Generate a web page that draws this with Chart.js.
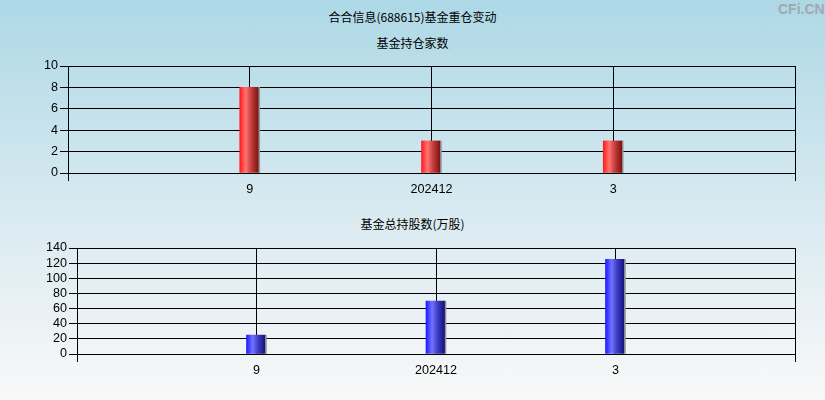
<!DOCTYPE html>
<html><head><meta charset="utf-8">
<script src="https://cdn.jsdelivr.net/npm/chart.js@4/dist/chart.umd.min.js"></script>
<style>
html,body{margin:0;padding:0;}
body{width:825px;height:400px;overflow:hidden;position:relative;background:linear-gradient(to bottom,#add8e6 0%,#d6e9f0 50%,#f9f8f8 100%);font-family:"Noto Sans CJK SC",sans-serif;}
.t{position:absolute;left:0;width:825px;text-align:center;font-size:12px;color:#000;line-height:16px;}
#logo{position:absolute;left:778px;top:1px;font:bold 14px "Liberation Sans",Arial,sans-serif;color:#a0a8ae;}
canvas{position:absolute;left:0;}
</style></head><body>
<div class="t" style="top:9px">合合信息(688615)基金重仓变动</div>
<div class="t" style="top:35px">基金持仓家数</div>
<div class="t" style="top:216px">基金总持股数(万股)</div>
<div id="logo">CFi.CN</div>
<canvas id="c1" width="825" height="145" style="top:55px"></canvas>
<canvas id="c2" width="825" height="145" style="top:235px"></canvas>
<script>
const categories = ['9', '202412', '3'];
const fundCount = [8, 3, 3];
const fundShares = [25, 70, 125];
const countTicks = [0, 2, 4, 6, 8, 10];
const sharesTicks = [0, 20, 40, 60, 80, 100, 120, 140];

const tickFont = {family: '"Liberation Sans", Arial, sans-serif', size: 12.6};

function gradFn(stops, fallback) {
  return function(ctx) {
    const chart = ctx.chart;
    const xs = chart.scales && chart.scales.x;
    if (!xs || ctx.dataIndex == null) return fallback;
    const x = xs.getPixelForValue(ctx.dataIndex);
    if (!isFinite(x)) return fallback;
    const g = chart.ctx.createLinearGradient(x - 10, 0, x + 10, 0);
    stops.forEach(s => g.addColorStop(s[0], s[1]));
    return g;
  };
}

function makeChart(id, values, ticksArr, stops, fallback, yWidth, padTop, xHeight) {
  const labels = [''].concat(categories, ['']);
  const data = [null].concat(values, [null]);
  return new Chart(document.getElementById(id), {
    type: 'bar',
    data: {labels: labels, datasets: [{data: data, backgroundColor: gradFn(stops, fallback), borderWidth: 0, barThickness: 20}]},
    options: {
      responsive: false, animation: false,
      layout: {padding: {top: padTop, right: 30, left: 0, bottom: 0}},
      plugins: {legend: {display: false}, tooltip: {enabled: false}, title: {display: false}},
      scales: {
        x: {
          type: 'category', offset: false,
          grid: {offset: false, color: '#000', lineWidth: 1, tickLength: 8,
            tickColor: c => (c.index === 0 || c.index === labels.length - 1) ? '#000' : 'rgba(0,0,0,0)'},
          border: {color: '#000'},
          ticks: {color: '#000', font: tickFont, padding: 1, maxRotation: 0, autoSkip: false},
          afterFit: s => { s.height = xHeight; }
        },
        y: {
          min: ticksArr[0], max: ticksArr[ticksArr.length - 1],
          afterBuildTicks: s => { s.ticks = ticksArr.map(v => ({value: v})); },
          grid: {color: '#000', lineWidth: 1, tickLength: 8},
          border: {color: '#000'},
          ticks: {color: '#000', font: tickFont, padding: 2, autoSkip: false},
          afterFit: s => { s.width = yWidth; }
        }
      }
    }
  });
}

makeChart('c1', fundCount, countTicks,
  [[0, '#ff1c1c'], [0.3, '#ff7272'], [0.6, '#c03a3a'], [0.92, '#7e1414'], [0.95, '#8a8a8a'], [1, '#9a9a9a']],
  '#e03030', 68, 11, 27);
makeChart('c2', fundShares, sharesTicks,
  [[0, '#1c1cff'], [0.3, '#7272ff'], [0.6, '#3a3ac0'], [0.92, '#14147e'], [0.95, '#8a8a8a'], [1, '#9a9a9a']],
  '#3030e0', 77, 13, 26);
</script>
</body></html>
